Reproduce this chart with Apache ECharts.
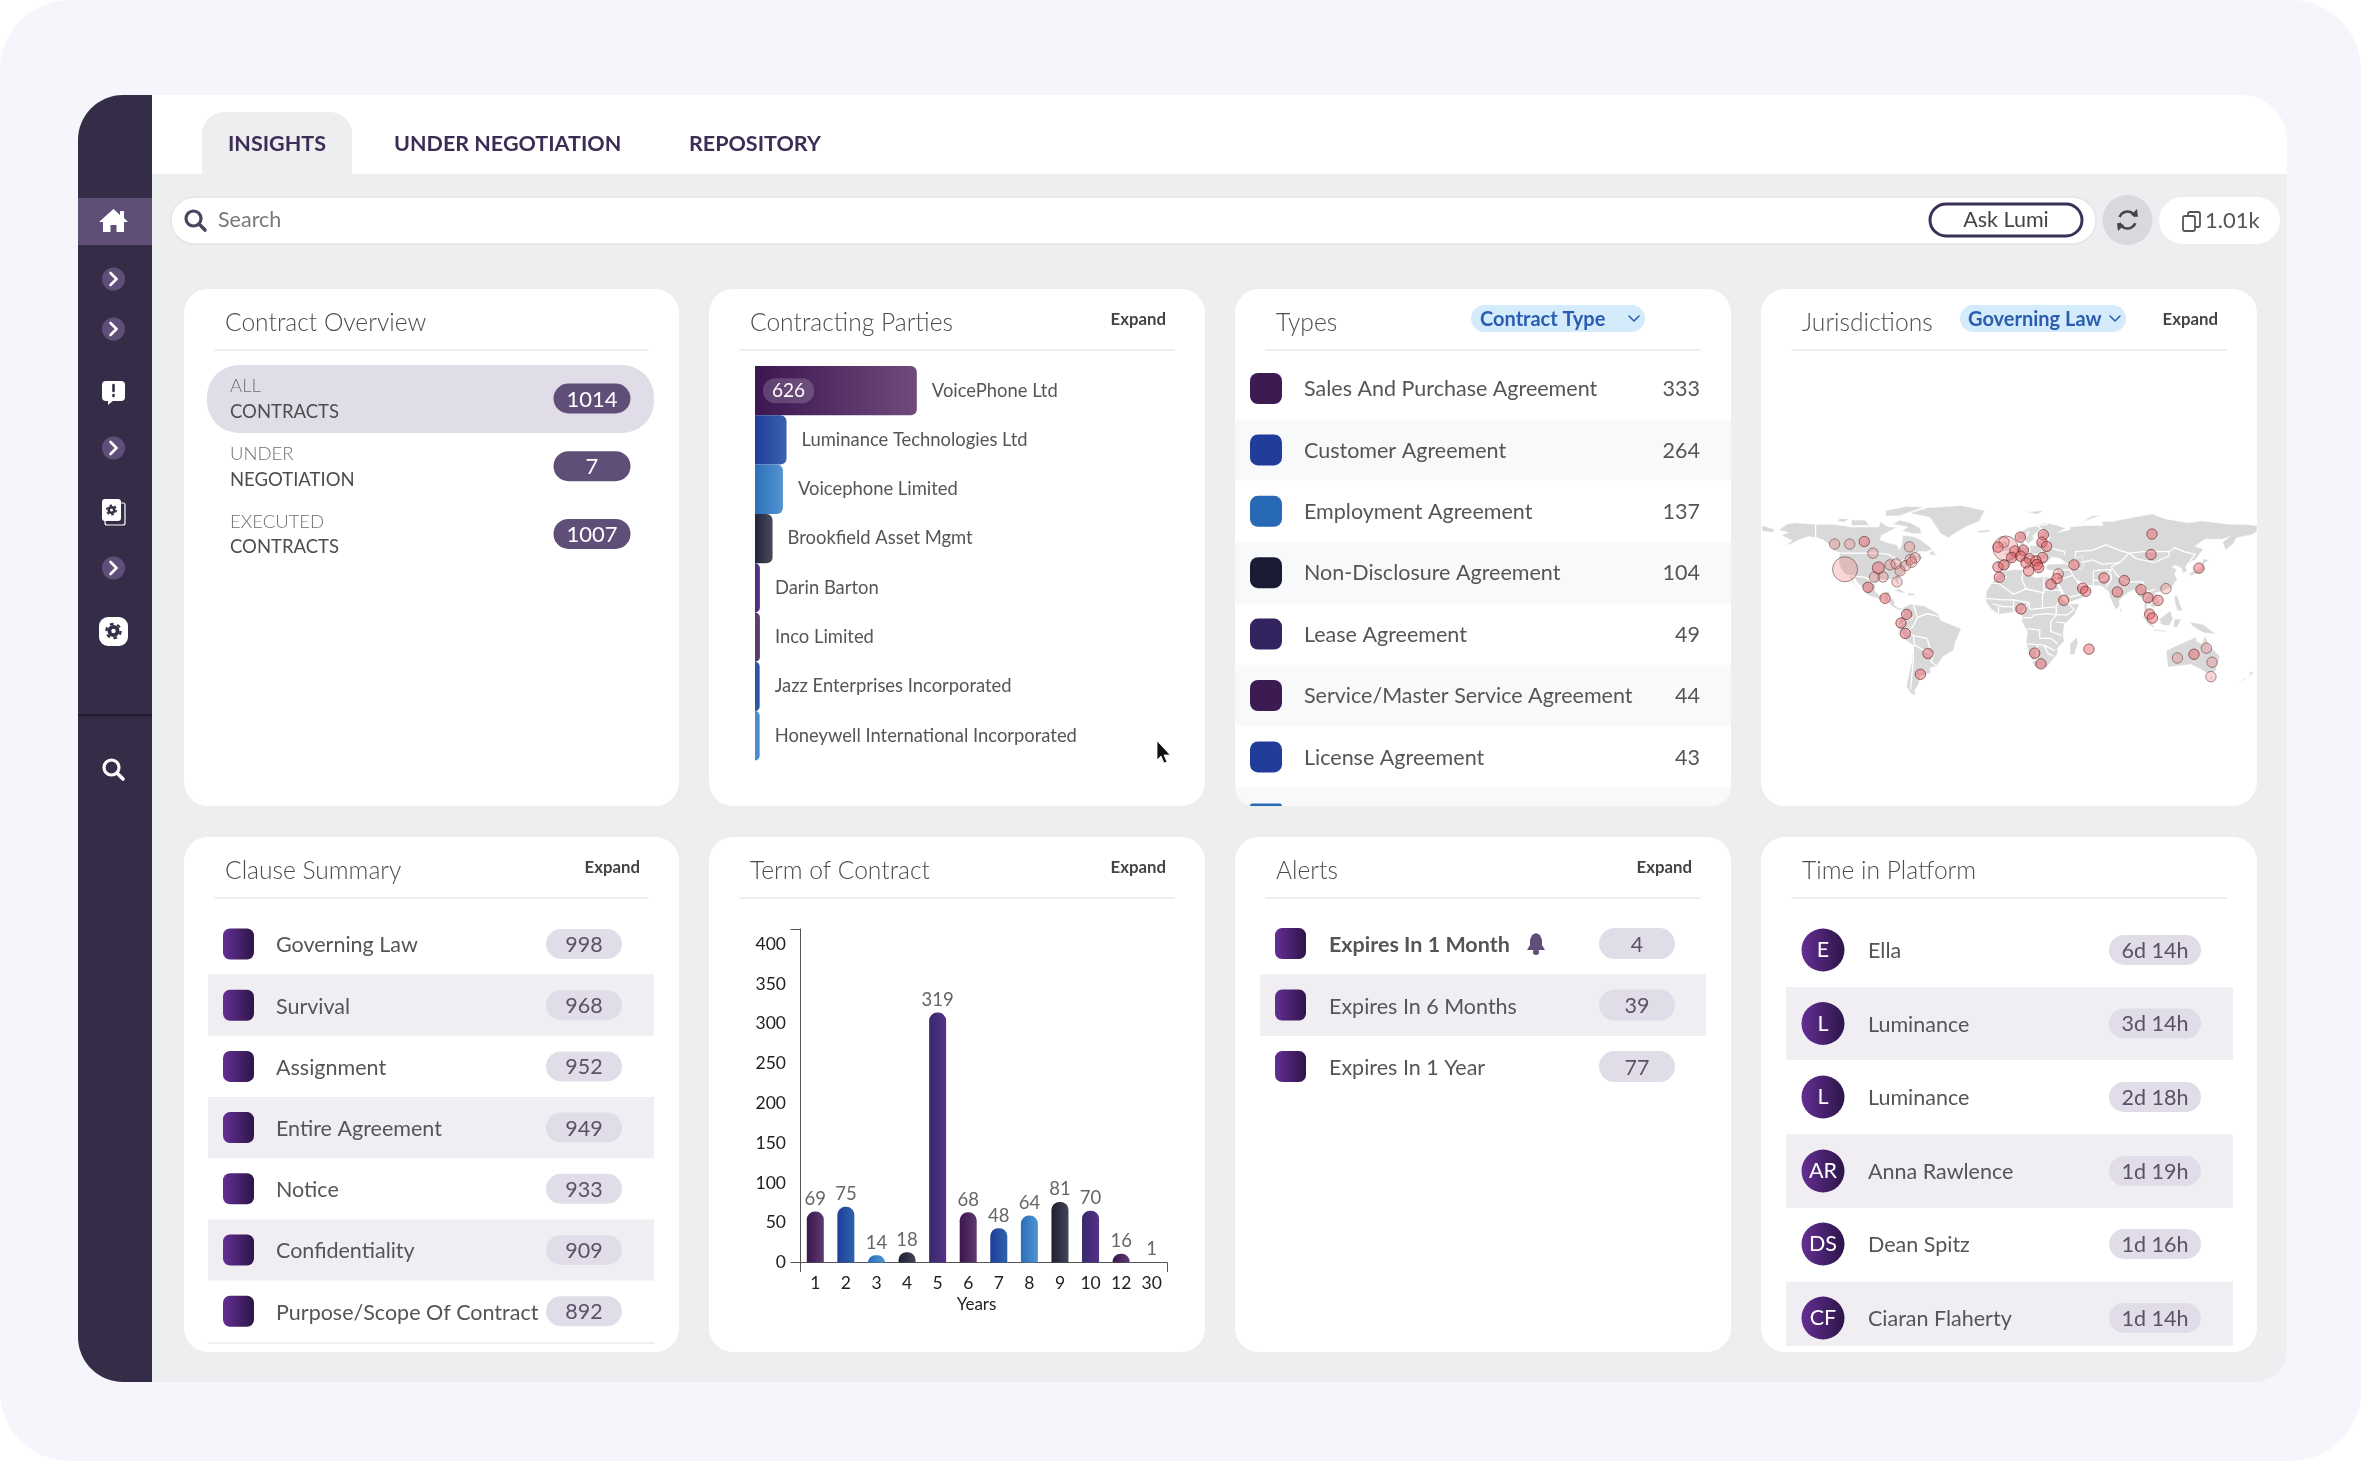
<!DOCTYPE html>
<html>
<head>
<meta charset="utf-8">
<title>Insights</title>
<script src="https://cdn.jsdelivr.net/npm/echarts@6/dist/echarts.min.js"></script>
<style>
    html, body { margin: 0; padding: 0; background: #fff; }
    #main { width: 2361px; height: 1461px; }
</style>
</head>
<body>
<div id="main"></div>
<script>
// ---- data ----
var tabs = ['INSIGHTS', 'UNDER NEGOTIATION', 'REPOSITORY'];
var overviewTop = ['ALL', 'UNDER', 'EXECUTED'];
var overviewBottom = ['CONTRACTS', 'NEGOTIATION', 'CONTRACTS'];
var overviewValues = [1014, 7, 1007];

var partyNames = ['VoicePhone Ltd', 'Luminance Technologies Ltd', 'Voicephone Limited', 'Brookfield Asset Mgmt',
    'Darin Barton', 'Inco Limited', 'Jazz Enterprises Incorporated', 'Honeywell International Incorporated'];
var partyValues = [626, 122, 108, 68, 19, 19, 18, 18];

var typeNames = ['Sales And Purchase Agreement', 'Customer Agreement', 'Employment Agreement', 'Non-Disclosure Agreement',
    'Lease Agreement', 'Service/Master Service Agreement', 'License Agreement'];
var typeValues = [333, 264, 137, 104, 49, 44, 43];

var clauseNames = ['Governing Law', 'Survival', 'Assignment', 'Entire Agreement', 'Notice', 'Confidentiality', 'Purpose/Scope Of Contract'];
var clauseValues = [998, 968, 952, 949, 933, 909, 892];

var termYears = ['1', '2', '3', '4', '5', '6', '7', '8', '9', '10', '12', '30'];
var termValues = [69, 75, 14, 18, 319, 68, 48, 64, 81, 70, 16, 1];
var termTicks = [0, 50, 100, 150, 200, 250, 300, 350, 400];

var alertNames = ['Expires In 1 Month', 'Expires In 6 Months', 'Expires In 1 Year'];
var alertValues = [4, 39, 77];

var platformInitials = ['E', 'L', 'L', 'AR', 'DS', 'CF'];
var platformNames = ['Ella', 'Luminance', 'Luminance', 'Anna Rawlence', 'Dean Spitz', 'Ciaran Flaherty'];
var platformTimes = ['6d 14h', '3d 14h', '2d 18h', '1d 19h', '1d 16h', '1d 14h'];

// jurisdictions: [lon, lat, contracts]
var lightDots = [[-119.6, 37.2, 200], [-2.8, 52.3, 200], [-127.2, 55.5, 2], [-116.2, 55.5, 2], [-99.3, 48.9, 2], [-72.8, 53.5, 2],
    [-98.1, 31.6, 2], [-92, 31.6, 2], [-81.8, 28, 2], [-86.9, 40.4, 2], [-82.5, 41.1, 2], [-79.6, 36, 2], [-75.5, 39.9, 2],
    [-72.1, 44.3, 2], [-68.7, 45.5, 2], [-71.2, 42.3, 2], [113.8, 23.1, 2], [143.2, -20.2, 2], [122.1, -27.3, 2],
    [147.3, -30.4, 2], [146.5, -40.9, 2], [-4, 56.9, 2], [35.5, 33.8, 2]];
var darkDots = [[-105.6, 57.4, 2], [-95.4, 38.2, 8], [-102.9, 24.1, 2], [-90.5, 16.1, 2], [-74.8, 4.4, 2], [-78.9, -1.9, 2],
    [-75.8, -9.5, 2], [-59.3, -24.1, 2], [-64.8, -39.2, 2], [-8.4, 53.3, 2], [7.9, 60.6, 2], [24.6, 62.3, 2], [23.6, 56.9, 2],
    [27, 53.8, 2], [4, 50.4, 3], [10.1, 51.1, 2], [1.6, 45.7, 2], [8.1, 46.7, 2], [14.4, 44.8, 2], [24.1, 45.7, 2], [12, 41.8, 2],
    [19.3, 43.3, 2], [20.2, 40.6, 2], [21.2, 38.4, 2], [-8.4, 38.9, 2], [-4, 40.4, 2], [13.9, 36, 2], [-7.4, 31.4, 2],
    [34.5, 30.4, 2], [30.2, 26.3, 2], [46.9, 40.4, 2], [68.7, 30.9, 2], [83.5, 29, 2], [78.4, 20.7, 2], [53.2, 23.4, 2],
    [55.4, 21.2, 2], [39.4, 14.6, 2], [8.4, 8.3, 2], [95.6, 22.4, 2], [100.7, 16.5, 2], [108, 14.6, 2], [101.9, 4.6, 2],
    [103.9, 1.7, 2], [103.6, 62.8, 2], [102.9, 47.9, 2], [137.8, 38, 2], [18.3, -23.8, 2], [22.9, -31.6, 2], [57.8, -20.9, 2],
    [134.2, -24.6, 2]];

// base map, rough outlines in lon/lat
var landPolygons = [
    [[[-168,65.5],[-162,70],[-156,71],[-141,70],[-128,70],[-115,68],[-108,68],[-95,68],[-94,72],[-88,68],[-82,68],[-85,66],[-93,62],[-94,58.5],[-88,56.5],[-82,55],[-80,51.5],[-79,54],[-78,58],[-78,62],[-70,61],[-65,59],[-60,55],[-56,52],[-60,50],[-66,50],[-70,47],[-65,49],[-64,46],[-61,46],[-66,44],[-70,43.5],[-70,41.5],[-74,40.5],[-76,37],[-76,35],[-81,31],[-80,25.5],[-82,27],[-84,30],[-90,29.5],[-94,29.5],[-97,27],[-98,22],[-95,18.5],[-91,18.5],[-90,21],[-87,21],[-88,16],[-84,15.5],[-83.5,11],[-81,9],[-78,9],[-78,7.5],[-81,7.5],[-85,10],[-88,13],[-92,14.5],[-96,16],[-102,18],[-105,20],[-106,23],[-110,27],[-113,31],[-114.5,31],[-112,26],[-110,23],[-112,25],[-115,29],[-117,32.5],[-120.5,34.5],[-122.5,37.5],[-124,41],[-124,47],[-123,49],[-128,51],[-131,55],[-135,58],[-140,60],[-146,61],[-152,59],[-158,56],[-164,54.5],[-158,58],[-162,60],[-166,62],[-161,64],[-168,65.5]]],
    [[[-80,73],[-72,71],[-65,67],[-64,63],[-70,63],[-78,65],[-74,68],[-85,70],[-80,73]]],
    [[[-115,73],[-105,73],[-102,69],[-115,69],[-115,73]]],
    [[[-90,76],[-80,76],[-62,82.5],[-75,83],[-90,80],[-90,76]]],
    [[[-124,74],[-117,74],[-120,71.5],[-125,72],[-124,74]]],
    [[[-59,48],[-56,51],[-53,47],[-59,48]]],
    [[[-85,22],[-80,23],[-75,20],[-78,20],[-85,22]]],
    [[[-74,20],[-69,19.5],[-69,18],[-74,18],[-74,20]]],
    [[[-73,78],[-60,82],[-35,83.5],[-18,80],[-22,72],[-32,68],[-42,62],[-44,60],[-50,63],[-54,69],[-58,75],[-73,78]]],
    [[[-78,9],[-72,12],[-62,10.5],[-52,5],[-50,0],[-44,-2.5],[-35,-6],[-39,-15],[-41,-22],[-48,-26],[-53,-33],[-58,-35],[-57,-38],[-65,-41],[-66,-46],[-69,-51],[-68,-55],[-72,-53],[-75,-48],[-73,-38],[-71,-30],[-70,-18],[-76,-14],[-81,-5],[-80,1],[-77,4],[-78,9]]],
    [[[-6,35.5],[3,37],[10,37],[11,33.5],[20,31],[25,32],[32,31],[34,28],[37,21],[39,15],[43,12],[51,12],[47,4],[40,-3],[39,-10],[40,-15],[35,-20],[35,-24],[32,-28],[27,-34],[20,-35],[18,-33],[15,-26],[12,-17],[13,-8],[9,-1],[9,4],[4,6],[-4,5],[-8,4.5],[-13,8],[-17,13],[-17,21],[-13,27],[-10,31],[-6,35.5]]],
    [[[49,-12],[50,-16],[47,-25],[44,-25],[44,-17],[49,-12]]],
    [[[-9,37],[-9,43],[-2,43.5],[-1,46],[-4.5,48.5],[2,51],[8,54],[8,57],[10.5,57],[11,54],[19,54.5],[21,57],[24,59.5],[30,60],[23,60],[21,63],[25,65.5],[22,66],[17,61.5],[18,59],[13,55.5],[11,59],[6,58],[5,62],[14,68],[25,71],[32,70],[41,67],[35,64],[44,66],[44,68],[55,69],[68,69],[67,72],[75,72],[80,73],[90,75],[104,77.5],[113,74],[130,71],[140,72.5],[160,70],[170,70],[180,69],[180,65],[177,62.5],[165,60],[163,56],[157,51],[155,57],[160,61],[155,59],[142,59],[135,54],[141,52],[135,44],[130,42],[128,39],[129,35.5],[126,34.5],[125,38],[121,40],[118,39],[122,37],[120,34],[122,30],[118,24],[110,21],[106,20],[109,13],[105,9],[100,13],[100,8],[103,2],[101,3],[98,8],[98,16],[94,17],[91,22.5],[86,20],[80,15],[80,10],[77,8],[73,17],[72,21],[67,25],[57,25.5],[52,28],[48,30],[51,25],[56,25],[59,22],[52,16],[43,13],[39,21],[35,28],[35,36],[28,36.5],[26,39],[29,41],[38,41],[41,41.5],[37,45],[31,46],[28,43],[24,40],[23,36.5],[19.5,41],[14,45],[18,40],[16,38],[12,42],[8,44],[3,43],[0,39],[-2,36.5],[-6,36],[-9,37]],
     [[47,45],[53,47],[54,40],[52,37],[49,38],[47,45]]],
    [[[-5,50],[1,51],[0,54],[-2,57],[-5,58.5],[-5,55],[-3,54],[-5,52],[-5,50]]],
    [[[-10,52],[-6,52],[-6,55],[-10,54],[-10,52]]],
    [[[-24,65],[-15,66],[-14,64.5],[-22,63.5],[-24,65]]],
    [[[130,32],[136,34],[141,36],[141,41],[145,44],[141,45],[139,38],[132,35],[130,32]]],
    [[[120,18],[122,18],[124,12],[126,7],[122,7],[120,14],[120,18]]],
    [[[95,5],[104,-2],[106,-6],[101,-3],[95,5]]],
    [[[105,-6.5],[114,-7.5],[114,-8.5],[105,-7.5],[105,-6.5]]],
    [[[109,1],[117,7],[119,1],[116,-4],[110,-3],[109,1]]],
    [[[120,1],[125,1],[122,-5],[119,-5],[120,1]]],
    [[[131,-1],[141,-3],[150,-10],[141,-9],[133,-4],[131,-1]]],
    [[[114,-22],[122,-18],[129,-15],[136,-12],[136,-15],[140,-17],[142,-11],[146,-19],[153,-26],[150,-37],[144,-38.5],[138,-35],[132,-32],[124,-33],[115,-34],[114,-22]]],
    [[[145,-41],[148,-41],[147,-43.5],[145,-41]]],
    [[[173,-41],[178,-38],[175,-37],[174,-40],[173,-41]]],
    [[[167,-46],[173,-42],[171,-42],[167,-46]]],
    [[[80,9.5],[82,7],[80.5,6],[80,9.5]]],
    [[[12,79],[25,80],[20,77],[12,79]]],
    [[[52,71],[68,77],[60,76],[52,71]]],
    [[[-180,69],[-170,66],[-173,64],[-180,65],[-180,69]]]
];
var borderLines = [
    [[-123,49],[-95,49],[-88,48],[-83,45],[-82,42],[-79,43],[-75,45],[-70,46],[-67,45]], [[-141,70],[-141,60],[-135,58]],
    [[-117,32.5],[-106,31.5],[-101,29.5],[-97,26]], [[-92,14.5],[-91,18]], [[-88,16],[-88,13]],
    [[28,60],[28,56],[32,52],[40,50],[40,47.5]], [[48,46],[48,50],[60,51],[70,55],[80,51],[87,49],[98,50],[106,50],[116,50],[120,53],[127,50],[135,48],[131,43]],
    [[87,49],[92,45],[105,42],[112,45],[116,47],[116,50]], [[74,39],[80,42],[87,49]], [[74,39],[78,33],[85,28],[97,28],[98,24],[101,21],[106,22.5]],
    [[52,42],[60,44],[68,41],[80,42]], [[61,36],[61,25]], [[61,36],[70,37],[74,37],[70,30],[61,29]], [[74,34],[74,30],[70,24]],
    [[36,36.5],[44,37],[44,40],[41,41.5]], [[44,37],[46,33],[48,30]], [[35,29],[46,33]], [[43,17],[52,19],[56,23]],
    [[-2,43.5],[3,43]], [[-7,42],[-7,37]], [[3,43],[7,44],[7,48],[6,51],[3,51]], [[7,48],[13,48],[17,48],[23,48],[24,51],[23,54]], [[7,54],[14,54],[15,51],[13,48]],
    [[14,46],[22,44],[28,44]], [[21,40],[26,41]], [[14,68],[20,69],[28,70]], [[20,69],[24,66]], [[12,60],[14,65]],
    [[98,16],[101,21]], [[105,14],[107,11]], [[102,12],[108,15]],
    [[-13,27],[-8,27],[-2,32]], [[-8,27],[3,19],[12,23],[25,20],[25,32]], [[10,37],[9,30],[12,23]], [[25,22],[37,22]],
    [[-17,16],[-5,15],[3,15],[14,13],[15,8],[24,9],[34,10],[36,14]], [[3,15],[3,6]], [[-8,10],[-8,4.5]], [[-12,12],[-5,10],[3,10]], [[14,13],[9,5]], [[24,20],[24,9]],
    [[34,10],[34,4],[42,4],[47,8],[43,12]], [[34,4],[30,-1],[30,-8],[38,-11]], [[34,-1],[41,-2]], [[9,2],[16,2],[18,4],[28,5],[34,4]],
    [[13,-6],[22,-7],[22,-13],[30,-13],[35,-17]], [[12,-17],[25,-18],[33,-22]], [[20,-18],[20,-29],[16,-29]], [[25,-18],[28,-24],[32,-26]],
    [[-70,12],[-67,2],[-70,-4],[-74,-8],[-70,-11],[-69,-18]], [[-67,2],[-60,5],[-52,3]], [[-80,-4],[-75,0],[-70,2]],
    [[-69,-18],[-62,-22],[-58,-20],[-60,-13],[-70,-11]], [[-62,-22],[-55,-25],[-57,-30],[-53,-33]], [[-70,-18],[-70,-30],[-72,-50]]
];

// ---- helpers ----
var FONT = 'Lato';
var GRAD = echarts.graphic.LinearGradient;
var elements = [];
var PILL_TEXT = '#5a5068';

function hGrad(a, b) {
    return new GRAD(0, 0, 1, 0, [{offset: 0, color: a}, {offset: 1, color: b}]);
}
function addRect(x, y, w, h, r, fill, stroke, lineWidth) {
    elements.push({
        type: 'rect', silent: true,
        shape: {x: x, y: y, width: w, height: h, r: r},
        style: {fill: fill, stroke: stroke || null, lineWidth: lineWidth || 0}
    });
}
function addText(x, y, text, size, color, align, weight) {
    elements.push({
        type: 'text', silent: true, x: x, y: y,
        style: {
            text: text, fontSize: size, fontFamily: FONT, fill: color,
            align: align || 'left', verticalAlign: 'middle', fontWeight: weight || 'normal'
        }
    });
}
function addLine(x1, y1, x2, y2, color, width) {
    elements.push({
        type: 'line', silent: true,
        shape: {x1: x1, y1: y1, x2: x2, y2: y2},
        style: {stroke: color, lineWidth: width, lineCap: 'round'}
    });
}
function addPoly(type, points, fill, stroke, width) {
    elements.push({
        type: type, silent: true,
        shape: {points: points},
        style: {fill: fill || null, stroke: stroke || null, lineWidth: width || 0, lineJoin: 'round', lineCap: 'round'}
    });
}
function addCircle(cx, cy, r, fill, stroke, width, dash) {
    elements.push({
        type: 'circle', silent: true,
        shape: {cx: cx, cy: cy, r: r},
        style: {fill: fill || null, stroke: stroke || null, lineWidth: width || 0, lineDash: dash || null}
    });
}
function addCard(x, y, w, h, title, expandRight) {
    addRect(x, y, w, h, 24, '#fff');
    if (title) {
        addText(x + 41, y + 34.5, title, 24.6, '#4d4d4d', 'left', 300);
    }
    addLine(x + 31, y + 61, x + w - 31, y + 61, '#eeeff1', 2);
    if (expandRight) {
        addText(expandRight, y + 31, 'Expand', 16.8, '#444', 'right', 'bold');
    }
}
function addPill(cx, cy, w, h, fill, text, color, size) {
    addRect(cx - w / 2, cy - h / 2, w, h, h / 2, fill);
    addText(cx, cy + 1, text, size || 21.5, color, 'center');
}
function addSearchIcon(cx, cy, color) {
    addCircle(cx - 1.5, cy - 1.5, 7.5, null, color, 3.2);
    addLine(cx + 4, cy + 4, cx + 10, cy + 10, color, 3.6);
}
function addChevronBadge(cx, cy) {
    addCircle(cx, cy, 11.5, '#5f4f78');
    addPoly('polyline', [[cx - 3, cy - 6], [cx + 3, cy], [cx - 3, cy + 6]], null, '#fff', 2.6);
}
function addGear(cx, cy, r, color) {
    addCircle(cx, cy, r * 0.55, null, color, r * 0.5);
    addCircle(cx, cy, r * 0.95, null, color, r * 0.3, [r * 0.5, r * 0.49]);
}

// ---- page frame ----
function buildFrame() {
    addRect(0, 0, 2361, 1461, 70, '#f4f6fb');
    addRect(78, 95, 2209, 1287, [45, 45, 32, 45], '#edeef0');
    addRect(152, 95, 2135, 79, [0, 45, 0, 0], '#fff');
    addRect(78, 95, 74, 1287, [45, 0, 0, 45], '#352d47');

    // sidebar
    addRect(78, 198, 74, 47, 0, '#5f4f78');
    addPoly('polygon', [[113.5, 209], [120, 215], [120, 211], [124, 211], [124, 218], [128, 222], [124, 222], [124, 232], [116.5, 232], [116.5, 225], [110.5, 225], [110.5, 232], [103, 232], [103, 222], [99, 222]], '#fff');
    addChevronBadge(113.5, 279);
    addChevronBadge(113.5, 329);
    addRect(102, 381, 23, 20, 4, '#fff');
    addPoly('polygon', [[108, 400], [114, 400], [108, 405]], '#fff');
    addLine(113.5, 385, 113.5, 391, '#352d47', 2.6);
    addLine(113.5, 395, 113.5, 396, '#352d47', 2.6);
    addChevronBadge(113.5, 448);
    addRect(105, 503, 20, 22, 2, null, '#fff', 1.2);
    addRect(102, 499, 19, 22, 3, '#fff');
    addGear(111.5, 510, 5, '#352d47');
    addChevronBadge(113.5, 568);
    addRect(99, 617, 29, 29, 9, '#fff');
    addGear(113.5, 631, 7.5, '#352d47');
    addRect(78, 714, 74, 2.5, 0, '#241e33');
    addSearchIcon(113, 769, '#fff');

    // tabs
    addRect(202, 112, 150, 62, [22, 22, 0, 0], '#edeef0');
    addText(228, 144.5, tabs[0], 21.5, '#3c2d55', 'left', 'bold');
    addText(394, 144.5, tabs[1], 21.5, '#3c2d55', 'left', 'bold');
    addText(689, 144.5, tabs[2], 21.5, '#3c2d55', 'left', 'bold');

    // search bar
    addRect(171, 197, 1925, 47, 23.5, '#fff', '#e4e5e8', 1.5);
    addSearchIcon(195, 220, '#4b4560');
    addText(218, 220.5, 'Search', 21.5, '#777');
    addRect(1930, 204, 152, 32, 16, '#fff', '#3b2e57', 3);
    addText(2006, 220.5, 'Ask Lumi', 21.5, '#444', 'center');
    addCircle(2127.5, 220, 25, '#d9d9dd');
    elements.push({type: 'arc', silent: true, shape: {cx: 2127.5, cy: 220, r: 8.5, startAngle: 3.5, endAngle: 5.9}, style: {fill: null, stroke: '#444', lineWidth: 2.6}});
    elements.push({type: 'arc', silent: true, shape: {cx: 2127.5, cy: 220, r: 8.5, startAngle: 0.4, endAngle: 2.8}, style: {fill: null, stroke: '#444', lineWidth: 2.6}});
    addPoly('polygon', [[2137, 209], [2138, 217], [2131, 215]], '#444');
    addPoly('polygon', [[2118, 231], [2117, 223], [2124, 225]], '#444');
    addRect(2159, 197, 121, 47, 23.5, '#fff');
    addRect(2188, 212, 12, 15, 2, '#fff', '#555', 1.8);
    addRect(2183, 216, 12, 15, 2, '#fff', '#555', 1.8);
    addText(2205, 220.5, '1.01k', 22, '#555');
}

// ---- cards built from the lists ----
function buildCards() {
    var typeSwatches = ['#3c1a52', '#1f3d99', '#2669b5', '#1b1b33', '#33235f', '#3c1a52', '#1f3d99'];
    var i, cy;

    // Contract Overview
    addCard(184, 289, 495, 517, 'Contract Overview');
    addRect(207, 365, 447, 68, 32, '#e0dde8');
    for (i = 0; i < overviewValues.length; i++) {
        cy = 399 + i * 67.7;
        addText(230, cy - 12.5, overviewTop[i], 18.5, '#6f6f6f', 'left', 300);
        addText(230, cy + 13, overviewBottom[i], 18.5, '#4d4d4d');
        addPill(592, cy - 0.5, 77, 30, '#5f4f78', String(overviewValues[i]), '#fff', 22);
    }

    addCard(709, 289, 496, 517, 'Contracting Parties', 1166);

    // Types
    addCard(1235, 289, 496, 517, 'Types');
    for (i = 0; i < typeNames.length; i++) {
        cy = 388.5 + i * 61.4;
        if (i % 2 === 1) {
            addRect(1235, cy - 30.7, 496, 61.4, 0, '#f8f9fb');
        }
        addRect(1250, cy - 15.5, 32, 31, 8, typeSwatches[i]);
        addText(1304, cy + 0.7, typeNames[i], 21.5, '#555');
        addText(1700, cy + 0.7, String(typeValues[i]), 21.5, '#555', 'right');
    }
    addRect(1235, 787, 496, 19, [0, 0, 24, 24], '#f8f9fb');
    addRect(1250, 803.5, 32, 2.5, [4, 4, 0, 0], '#2669b5');
    addRect(1471, 305, 174, 27, 13.5, '#d3ebfa');
    addText(1480, 319.5, 'Contract Type', 20, '#2a5db0', 'left', 'bold');
    addPoly('polyline', [[1629, 316], [1634, 321], [1639, 316]], null, '#2a5db0', 1.5);

    // Jurisdictions
    addCard(1761, 289, 496, 517, 'Jurisdictions', 2218);
    addRect(1960, 305, 166, 27, 13.5, '#d3ebfa');
    addText(1968, 319.5, 'Governing Law', 20, '#2a5db0', 'left', 'bold');
    addPoly('polyline', [[2110, 316], [2115, 321], [2120, 316]], null, '#2a5db0', 1.5);

    // Clause Summary
    addCard(184, 837, 495, 515, 'Clause Summary', 640);
    for (i = 0; i < clauseNames.length; i++) {
        cy = 944 + i * 61.2;
        if (i % 2 === 1) {
            addRect(208, cy - 30.6, 446, 61.2, 0, '#f0eef3');
        }
        addRect(223, cy - 15.5, 31, 31, 7, hGrad('#642f94', '#2d1548'));
        addText(276, cy + 1.5, clauseNames[i], 21.5, '#555');
        addPill(584, cy, 76, 30, '#e0dde8', String(clauseValues[i]), PILL_TEXT);
    }
    addLine(208, 1343, 654, 1343, '#eeeff1', 2);

    addCard(709, 837, 496, 515, 'Term of Contract', 1166);

    // Alerts
    addCard(1235, 837, 496, 515, 'Alerts', 1692);
    addRect(1260, 974.6, 446, 61.4, 0, '#f0eef3');
    for (i = 0; i < alertNames.length; i++) {
        cy = 943.6 + i * 61.5;
        addRect(1275, cy - 15.5, 31, 31, 7, hGrad('#642f94', '#2d1548'));
        addText(1329, cy + 1.5, alertNames[i], 21.5, '#555', 'left', i === 0 ? 'bold' : 'normal');
        addPill(1637, cy, 76, 31, '#e0dde8', String(alertValues[i]), PILL_TEXT);
    }
    // bell
    addPoly('polygon', [[1536, 933], [1540, 935], [1542, 940], [1542, 945], [1545, 950], [1527, 950], [1530, 945], [1530, 940], [1532, 935]], '#5f4f78');
    addCircle(1536, 952, 3, '#5f4f78');

    // Time in Platform
    addCard(1761, 837, 496, 515, 'Time in Platform');
    var rowY = [950, 1023.5, 1097, 1171, 1244, 1318];
    addRect(1786, 987, 447, 73, 0, '#f0eef3');
    addRect(1786, 1134.4, 447, 73.4, 0, '#f0eef3');
    addRect(1786, 1281.4, 447, 64.6, 0, '#f0eef3');
    for (i = 0; i < platformNames.length; i++) {
        cy = rowY[i];
        addCircle(1823, cy, 21.5, hGrad('#642f94', '#2d1548'));
        addText(1823, cy + 0.5, platformInitials[i], 21.5, '#fff', 'center');
        addText(1868, cy + 1.5, platformNames[i], 21.5, '#555');
        addPill(2155, cy, 92, 30, '#e0dde8', platformTimes[i], PILL_TEXT);
    }

    // mouse pointer
    addPoly('polygon', [[1157, 741], [1157, 760], [1161, 756], [1164, 763], [1167, 762], [1164, 755], [1170, 755]], '#111', '#fff', 0.8);
}

// ---- series ----
var partyColors = [['#3b1650', '#6f4a7c'], ['#1f3d9a', '#3a62ad'], ['#2a70b8', '#5594d2'], ['#23233a', '#4a4a5c'],
    ['#4a2a7c', '#5b3585'], ['#5a3c6e', '#5a3c6e'], ['#2f55a5', '#2f55a5'], ['#4a8ccc', '#4a8ccc']];
var termColors = [['#3b1650', '#5f3a6e'], ['#1f3d9a', '#2d64ad'], ['#2a70b8', '#4f93d3'], ['#1e1e32', '#44445a'], ['#372a6a', '#56308a']];
var BAR_SHIFT = 5;  // the bars in the picture sit about this many units below the drawn axis

function partyBars() {
    return partyValues.map(function (v, i) {
        return {value: v, itemStyle: {color: hGrad(partyColors[i][0], partyColors[i][1])}};
    });
}
function partyPills() {
    return partyValues.map(function (v, i) {
        return {value: v, label: {show: i === 0}};
    });
}
function termBars() {
    return termValues.map(function (v, i) {
        var c = termColors[i % termColors.length];
        return {value: v, itemStyle: {color: hGrad(c[0], c[1])}};
    });
}
// values too small to clear the shift only get their label, read on the visible axis
function termSmall() {
    return termValues.map(function (v) { return v < BAR_SHIFT ? v : null; });
}
function dotData(list) {
    return list.map(function (d) { return {name: '', value: d}; });
}
function dotSize(val) {
    return 8.8 + 1.15 * Math.sqrt(val[2]);
}

buildFrame();
buildCards();

echarts.registerMap('world', {
    type: 'FeatureCollection',
    features: landPolygons.map(function (rings, i) {
        return {type: 'Feature', properties: {name: 'land' + i}, geometry: {type: 'Polygon', coordinates: rings}};
    })
});

var chart = echarts.init(document.getElementById('main'), null, {renderer: 'canvas'});
var option = {
    animation: false,
    textStyle: {fontFamily: FONT},
    graphic: {elements: elements},
    geo: {
        map: 'world', silent: true, z: 2, aspectScale: 1, roam: false,
        boundingCoords: [[-180, 83.5], [180, -56]],
        left: 1762, top: 505.6, width: 495, height: 191.8,
        label: {show: false},
        itemStyle: {areaColor: '#d9d9d9', borderColor: '#fff', borderWidth: 0.6}
    },
    grid: [
        {left: 755, top: 366, width: 258.5, height: 394.4},
        {left: 800, top: 929, width: 367, height: 333.5}
    ],
    xAxis: [
        {gridIndex: 0, type: 'value', min: 0, max: 1000, show: false},
        {
            gridIndex: 1, type: 'category', data: termYears,
            name: 'Years', nameLocation: 'middle', nameGap: 34,
            nameTextStyle: {fontSize: 17, color: '#222', padding: [0, 14, 0, 0]},
            axisLine: {lineStyle: {color: '#555', width: 1}},
            axisTick: {show: true, length: 9.5, lineStyle: {color: '#555'}, interval: function (idx) { return idx === 0; }},
            axisLabel: {color: '#222', fontSize: 17.5, margin: 12, interval: 0}
        }
    ],
    yAxis: [
        {gridIndex: 0, type: 'category', inverse: true, data: partyNames, show: false},
        {
            gridIndex: 1, type: 'value', min: 0, max: 419, interval: 50,
            splitLine: {show: false},
            axisLine: {show: true, lineStyle: {color: '#555', width: 1}},
            axisTick: {show: true, length: 9.5, lineStyle: {color: '#555'}, customValues: [0, 419]},
            axisLabel: {color: '#222', fontSize: 17.5, margin: 14, customValues: termTicks}
        },
        {gridIndex: 1, type: 'value', min: BAR_SHIFT, max: 419 + BAR_SHIFT, show: false, splitLine: {show: false}}
    ],
    series: [
        {
            type: 'bar', xAxisIndex: 0, yAxisIndex: 0, silent: true, z: 3,
            barCategoryGap: '0%', barGap: '-100%',
            itemStyle: {borderRadius: [0, 6, 6, 0]},
            label: {
                show: true, position: 'right', distance: 15, color: '#555', fontSize: 18.4,
                formatter: function (p) { return partyNames[p.dataIndex]; }
            },
            data: partyBars()
        },
        {
            type: 'bar', xAxisIndex: 0, yAxisIndex: 0, silent: true, z: 4,
            barCategoryGap: '0%', barGap: '-100%',
            itemStyle: {color: 'transparent'},
            label: {
                position: 'insideLeft', distance: 8, color: '#fff', fontSize: 19,
                backgroundColor: 'rgba(255,255,255,0.18)', borderRadius: 12, padding: [3, 9]
            },
            data: partyPills()
        },
        {
            type: 'bar', xAxisIndex: 1, yAxisIndex: 2, silent: true, z: 3, barWidth: 17, barGap: '-100%',
            itemStyle: {borderRadius: [8, 8, 0, 0]},
            label: {
                show: true, position: 'top', distance: 3, color: '#666', fontSize: 18.5,
                formatter: function (p) { return p.value < BAR_SHIFT ? '' : p.value; }
            },
            data: termBars()
        },
        {
            type: 'bar', xAxisIndex: 1, yAxisIndex: 1, silent: true, z: 3, barWidth: 17, barGap: '-100%',
            itemStyle: {color: 'transparent'},
            label: {show: true, position: 'top', distance: 3, color: '#666', fontSize: 18.5},
            data: termSmall()
        },
        {
            type: 'lines', coordinateSystem: 'geo', polyline: true, silent: true, z: 3,
            lineStyle: {color: '#fff', width: 1.3, opacity: 1},
            data: borderLines.map(function (c) { return {coords: c}; })
        },
        {
            type: 'scatter', coordinateSystem: 'geo', silent: true, z: 4, symbolSize: dotSize,
            itemStyle: {color: 'rgba(240,120,125,0.38)', borderColor: 'rgba(90,60,60,0.7)', borderWidth: 1},
            data: dotData(lightDots)
        },
        {
            type: 'scatter', coordinateSystem: 'geo', silent: true, z: 5, symbolSize: dotSize,
            itemStyle: {color: 'rgba(232,85,90,0.55)', borderColor: 'rgba(90,40,40,0.8)', borderWidth: 1},
            data: dotData(darkDots)
        }
    ]
};
chart.setOption(option);
</script>
</body>
</html>
